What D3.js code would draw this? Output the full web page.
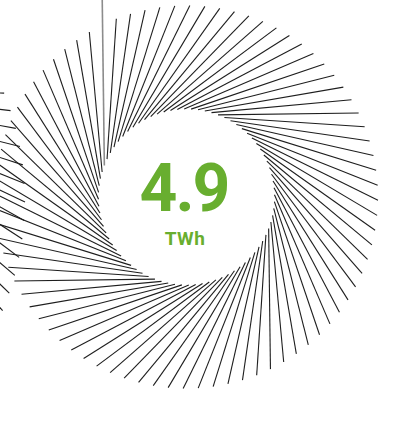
<!DOCTYPE html>
<html lang="en">
<head>
<meta charset="UTF-8">
<script src="https://cdn.jsdelivr.net/npm/d3@7"></script>
<style>
  body { margin: 0; background: #fff; overflow: hidden; }
  svg { display: block; }
</style>
</head>
<body>
<div id="chart"></div>
<script>
// one spiral per figure; the left one is only partly in view
var spiralNames = ["left", "main"];
var spiralCx = [-259, 186.5];
var spiralCy = [200, 197];
var innerR = [130, 88];
var outerR = [284, 191.5];
var lineCounts = [96, 80];
var firstAngle = [0.4, -116];   // degrees, outer end of the first line
var twist = 43;                 // degrees between inner and outer end

var mainValue = "4.9";
var mainUnit = "TWh";

var width = 410, height = 435;
var green = "#68ae2f";

const svg = d3.select("#chart").append("svg")
    .attr("width", width)
    .attr("height", height);

var rad = d => d * Math.PI / 180;

spiralNames.forEach((name, s) => {
    var n = lineCounts[s];
    var angle = d3.scaleLinear()
        .domain([0, n])
        .range([firstAngle[s], firstAngle[s] + 360]);
    var cx = spiralCx[s], cy = spiralCy[s];

    var lines = d3.range(n).map(i => {
        var a = angle(i);
        return {
            x1: cx + innerR[s] * Math.cos(rad(a - twist)),
            y1: cy + innerR[s] * Math.sin(rad(a - twist)),
            x2: cx + outerR[s] * Math.cos(rad(a)),
            y2: cy + outerR[s] * Math.sin(rad(a)),
            first: i == 0 && name == "main"
        };
    });

    svg.append("g").attr("class", "spiral-" + name)
        .selectAll("line")
        .data(lines)
        .enter()
        .append("line")
        .attr("x1", d => d.x1)
        .attr("y1", d => d.y1)
        // the first line of the main spiral runs on past the frame
        .attr("x2", d => d.first ? d.x1 + (d.x2 - d.x1) * 1.4 : d.x2)
        .attr("y2", d => d.first ? d.y1 + (d.y2 - d.y1) * 1.4 : d.y2)
        .attr("stroke", d => d.first ? "#8c8c8c" : "#1e1e1e")
        .attr("stroke-width", d => d.first ? 1.6 : 1.1);
});

svg.append("text")
    .text(mainValue)
    .attr("x", 184)
    .attr("y", 211)
    .attr("text-anchor", "middle")
    .attr("fill", green)
    .style("font-family", "Roboto, 'DejaVu Sans', sans-serif")
    .style("font-weight", 700)
    .style("font-size", "66px")
    .style("letter-spacing", "-2px");

svg.append("text")
    .text(mainUnit)
    .attr("x", 185)
    .attr("y", 245)
    .attr("text-anchor", "middle")
    .attr("fill", green)
    .style("font-family", "Roboto, 'DejaVu Sans', sans-serif")
    .style("font-weight", 700)
    .style("font-size", "19px")
    .style("letter-spacing", "0.5px");
</script>
</body>
</html>
